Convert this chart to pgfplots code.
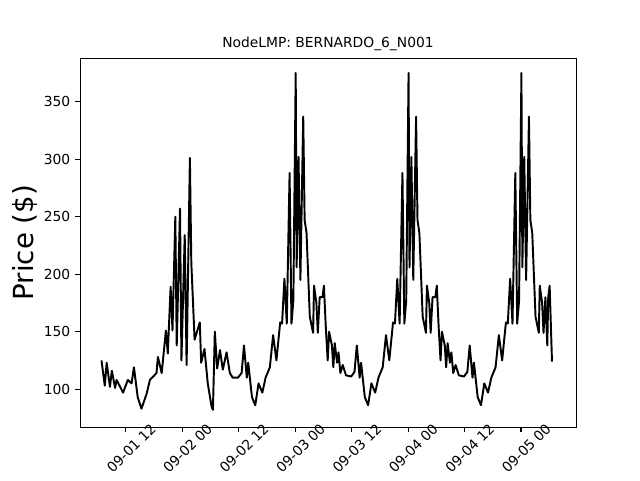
\documentclass[border=0pt]{standalone}
\usepackage{pgfplots}
\pgfplotsset{compat=1.18}
\usepackage{fontspec}
\setmainfont{DejaVu Sans}
\begin{document}
\begin{tikzpicture}
\begin{axis}[
  scale only axis, width=357.1bp, height=265.7bp,
  xmin=2.23, xmax=107.7, ymin=67, ymax=388,
  xtick={12,24,36,48,60,72,84,96},
  xticklabels={09-01 12,09-02 00,09-02 12,09-03 00,09-03 12,09-04 00,09-04 12,09-05 00},
  x tick label style={rotate=45,anchor=north east,inner sep=0pt,xshift=17bp,yshift=-7bp,font=\fontsize{10}{12}\selectfont},
  ytick={100,150,200,250,300,350},
  yticklabel style={font=\fontsize{10}{12}\selectfont},
  /pgf/number format/assume math mode=true,
  tick align=outside, tick style={black, thick},
  major tick length=3.5bp,
  xtick pos=bottom, ytick pos=left,
  title={NodeLMP: BERNARDO\_6\_N001},
  title style={font=\fontsize{10}{12}\selectfont, yshift=-4bp},
  ylabel={Price (\$)},
  ylabel style={font=\fontsize{20}{24}\selectfont, yshift=-2bp},
  axis line style={black},
]
\addplot[black, line width=1.4pt, line join=round] coordinates {
(6.8,125)(7.5,103)(7.9,123)(8.6,102)(9,116)(9.7,101)(10,108)(11.4,97)(12.4,108)(13.2,105)(13.7,119)(14.5,93)(15.3,83)(16.4,96)(17.1,108)(18.5,114)(18.8,128)(19.6,114)(20.5,151)(20.9,131)(21.5,189)(21.9,151)(22.5,250)(22.8,138)(23.5,257)(23.8,125)(24.5,234)(24.9,121)(25.6,301)(25.9,210)(26.6,143)(27.7,158)(28,123)(28.7,135)(29.4,105)(30.2,85)(30.5,82)(30.9,150)(31.4,118)(32,134)(32.6,117)(33.4,132)(34.1,114)(34.7,110)(35.8,110)(36.6,114)
(37.1,138)(37.7,110)(38,123)(38.8,93)(39.5,86)(40.2,105)(41,97)(41.7,110)(42.6,119)(43.3,147)(44,125)(44.8,158)(45.2,157)(45.7,196)(46.2,157)(46.8,288)(47.2,157)(47.6,177)(48.1,375)(48.3,206)(48.7,302)(49.1,195)(49.7,337)(50,247)(50.4,236)(51.1,163)(51.8,149)(52,190)(52.5,175)(52.8,149)(53.2,180)(53.8,180)(54.1,190)(54.5,154)(54.9,125)(55.2,150)(55.8,138)(56.1,119)(56.4,140)(56.9,123)(57.2,132)(57.6,114)(58.1,121)(58.8,112)(59.9,111)(60.6,115)
(61.1,138)(61.7,110)(62,123)(62.8,93)(63.5,86)(64.2,105)(65,97)(65.7,110)(66.6,119)(67.3,147)(68,125)(68.8,158)(69.2,157)(69.7,196)(70.2,157)(70.8,288)(71.2,157)(71.6,177)(72.1,375)(72.3,206)(72.7,302)(73.1,195)(73.7,337)(74,247)(74.4,236)(75.1,163)(75.8,149)(76,190)(76.5,175)(76.8,149)(77.2,180)(77.8,180)(78.1,190)(78.5,154)(78.9,125)(79.2,150)(79.8,138)(80.1,119)(80.4,140)(80.9,123)(81.2,132)(81.6,114)(82.1,121)(82.8,112)(83.9,111)(84.6,115)
(85.1,138)(85.7,110)(86,123)(86.8,93)(87.5,86)(88.2,105)(89,97)(89.7,110)(90.6,119)(91.3,147)(92,125)(92.8,158)(93.2,157)(93.7,196)(94.2,157)(94.8,288)(95.2,157)(95.6,177)(96.1,375)(96.3,206)(96.7,302)(97.1,195)(97.7,337)(98,247)(98.4,236)(99.1,163)(99.8,149)(100,190)(100.5,175)(100.8,149)(101.2,180)(101.6,138)(101.8,180)(102.1,190)(102.6,124)
};
\end{axis}
\pgfresetboundingbox
\path[use as bounding box] (-57.6bp,-38.2bp) rectangle (403.2bp,307.5bp);
\end{tikzpicture}
\end{document}
